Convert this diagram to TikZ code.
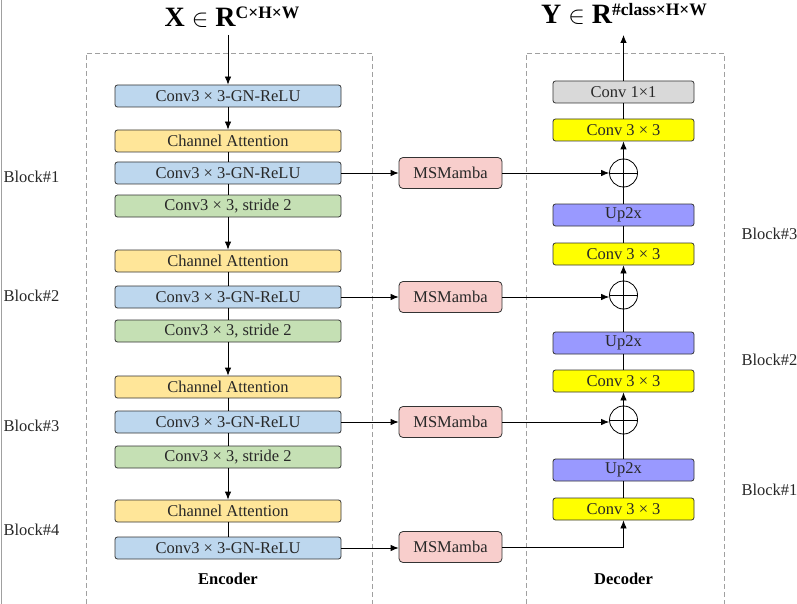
\documentclass[tikz,border=0pt]{standalone}
\usepackage{fontspec}
\setmainfont{Liberation Serif}
\usetikzlibrary{arrows.meta,positioning,calc}
\definecolor{convblue}{RGB}{189,215,238}
\definecolor{attyellow}{RGB}{255,230,153}
\definecolor{downgreen}{RGB}{197,224,180}
\definecolor{mambapink}{RGB}{248,206,204}
\definecolor{upviolet}{RGB}{153,153,255}
\definecolor{decyellow}{RGB}{255,255,0}
\definecolor{headgray}{RGB}{217,217,217}
\definecolor{framegray}{RGB}{160,160,160}
\definecolor{inkgray}{RGB}{40,40,40}

\begin{document}
\begin{tikzpicture}[
  x=1pt,y=-1pt,
  box/.style={rectangle,rounded corners=2.5pt,draw=black!80,line width=0.8pt,inner sep=0pt,
    minimum height=22pt,text=inkgray,font=\fontsize{16.5}{18}\selectfont},
  encbox/.style={box,minimum width=226pt},
  decbox/.style={box,minimum width=141pt},
  conv/.style={encbox,fill=convblue},
  att/.style={encbox,fill=attyellow},
  down/.style={encbox,fill=downgreen},
  mamba/.style={box,fill=mambapink,minimum width=103pt,minimum height=31pt,rounded corners=4pt},
  up/.style={decbox,fill=upviolet},
  dconv/.style={decbox,fill=decyellow},
  head/.style={decbox,fill=headgray},
  sum/.style={circle,draw=black,line width=0.8pt,minimum size=28pt,inner sep=0pt,
    path picture={\draw[line width=0.8pt] (path picture bounding box.north) -- (path picture bounding box.south)
      (path picture bounding box.west) -- (path picture bounding box.east);}},
  blocklbl/.style={anchor=west,text=inkgray,font=\fontsize{16.5}{18}\selectfont},
  part/.style={font=\bfseries\fontsize{16.5}{18}\selectfont},
  frame/.style={draw=framegray,dashed,dash pattern=on 5pt off 3pt,line width=0.8pt},
  line/.style={draw=black,line width=0.8pt},
  arrow/.style={line,-{Latex[length=8pt,width=6.5pt]}}
]
  \useasboundingbox (0,0) rectangle (797,604);
  \draw[framegray,line width=1pt] (1,0) -- (1,604);

  % frames
  \draw[frame] (86,620) |- (372,53) -- (372,620);
  \draw[frame] (526,620) |- (724,53) -- (724,620);

  % titles
  \node[font=\bfseries\fontsize{28}{30}\selectfont] (xin) at (232,17)
    {X $\in$ R\raisebox{8pt}{\fontsize{17.5}{18}\selectfont C×H×W}};
  \node[font=\bfseries\fontsize{28}{30}\selectfont] (yout) at (624,14)
    {Y $\in$ R\raisebox{8pt}{\fontsize{17.5}{18}\selectfont \#class×H×W}};
  \coordinate (xend) at (228,35);
  \coordinate (yend) at (623.5,35);

  % encoder
  \node[conv] (c0) at (228,96) {Conv3 × 3-GN-ReLU};
  \node[att]  (a1) at (228,141) {Channel Attention};
  \node[conv] (c1) at (228,173) {Conv3 × 3-GN-ReLU};
  \node[down] (d1) at (228,206) {Conv3 × 3, stride 2};
  \node[att]  (a2) at (228,261) {Channel Attention};
  \node[conv] (c2) at (228,297) {Conv3 × 3-GN-ReLU};
  \node[down] (d2) at (228,331) {Conv3 × 3, stride 2};
  \node[att]  (a3) at (228,387) {Channel Attention};
  \node[conv] (c3) at (228,422) {Conv3 × 3-GN-ReLU};
  \node[down] (d3) at (228,457) {Conv3 × 3, stride 2};
  \node[att]  (a4) at (228,511) {Channel Attention};
  \node[conv] (c4) at (228,548) {Conv3 × 3-GN-ReLU};
  \node[part] (enc) at (228,579) {Encoder};

  \node[blocklbl] (b1) at (0,177) {Block\#1};
  \node[blocklbl] (b2) at (0,296) {Block\#2};
  \node[blocklbl] (b3) at (0,426) {Block\#3};
  \node[blocklbl] (b4) at (0,530) {Block\#4};

  % skip paths
  \node[mamba] (m1) at (450.5,173) {MSMamba};
  \node[mamba] (m2) at (450.5,297) {MSMamba};
  \node[mamba] (m3) at (450.5,422) {MSMamba};
  \node[mamba] (m4) at (450.5,547) {MSMamba};

  % decoder
  \node[head]  (h)  at (623.5,92) {Conv 1×1};
  \node[dconv] (e3) at (623.5,130) {Conv 3 × 3};
  \node[sum]   (s3) at (623.5,173) {};
  \node[up]    (u3) at (623.5,215) {Up2x};
  \node[dconv] (e2) at (623.5,254) {Conv 3 × 3};
  \node[sum]   (s2) at (623.5,295) {};
  \node[up]    (u2) at (623.5,343) {Up2x};
  \node[dconv] (e1) at (623.5,381) {Conv 3 × 3};
  \node[sum]   (s1) at (623.5,420) {};
  \node[up]    (u1) at (623.5,470) {Up2x};
  \node[dconv] (e0) at (623.5,509) {Conv 3 × 3};
  \node[part]  (dec) at (623.5,579) {Decoder};

  \node[blocklbl] (r3) at (738,234) {Block\#3};
  \node[blocklbl] (r2) at (738,360) {Block\#2};
  \node[blocklbl] (r1) at (738,490) {Block\#1};

  % encoder flow
  \draw[arrow] (xend) -- (c0);
  \draw[arrow] (c0) -- (a1);
  \draw[line] (a1) -- (c1);
  \draw[line] (c1) -- (d1);
  \draw[arrow] (d1) -- (a2);
  \draw[line] (a2) -- (c2);
  \draw[line] (c2) -- (d2);
  \draw[arrow] (d2) -- (a3);
  \draw[line] (a3) -- (c3);
  \draw[line] (c3) -- (d3);
  \draw[arrow] (d3) -- (a4);
  \draw[line] (a4) -- (c4);

  % skips
  \draw[arrow] (c1) -- (m1);
  \draw[arrow] (c2) -- (m2);
  \draw[arrow] (c3) -- (m3);
  \draw[arrow] (c4.east) -- (c4.east -| m4.west);
  \draw[arrow] (m1) -- (s3);
  \draw[arrow] (m2.east) -- (m2.east -| s2.west);
  \draw[arrow] (m3.east) -- (m3.east -| s1.west);
  \draw[arrow] (m4.east) -| (e0.south);

  % decoder flow
  \draw[line] (e0) -- (u1);
  \draw[line] (u1) -- (s1);
  \draw[arrow] (s1) -- (e1);
  \draw[line] (e1) -- (u2);
  \draw[line] (u2) -- (s2);
  \draw[arrow] (s2) -- (e2);
  \draw[line] (e2) -- (u3);
  \draw[line] (u3) -- (s3);
  \draw[arrow] (s3) -- (e3);
  \draw[line] (e3) -- (h);
  \draw[arrow] (h) -- (yend);
\end{tikzpicture}
\end{document}
